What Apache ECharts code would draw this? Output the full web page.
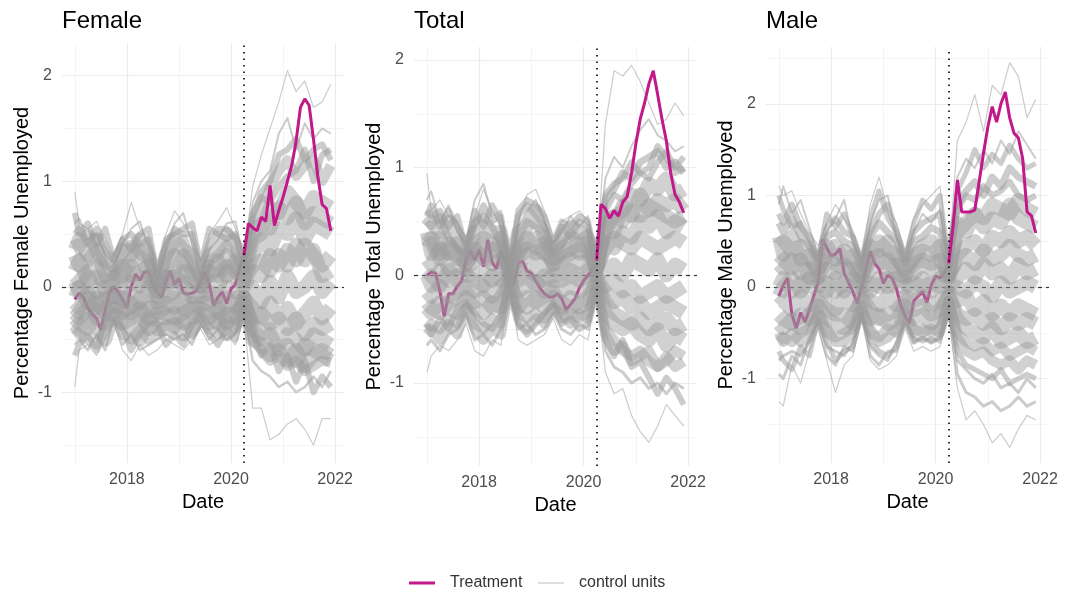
<!DOCTYPE html>
<html>
<head>
<meta charset="utf-8">
<script src="https://cdn.jsdelivr.net/npm/echarts@6/dist/echarts.min.js"></script>
<style>
  html, body { margin: 0; background: #fff; }
  #chart { width: 1067px; height: 594px; }
</style>
</head>
<body>
<div id="chart"></div>
<script>
  // treatment series, one value per month, 2017-01 .. 2021-12
  var femaleTreatment = [
    -0.12, -0.06, -0.10, -0.20, -0.26, -0.30, -0.41, -0.22, -0.05, 0.00, -0.05, -0.12,
    -0.20, 0.00, 0.12, 0.06, 0.14, 0.14, 0.04, -0.05, -0.10, 0.05, 0.15, 0.02,
    0.08, -0.06, -0.07, -0.06, -0.04, 0.05, 0.14, 0.02, -0.18, -0.10, -0.05, -0.16,
    -0.02, 0.02, 0.18, 0.30, 0.60, 0.56, 0.53, 0.66, 0.62, 0.96, 0.58, 0.72,
    0.85, 1.00, 1.15, 1.38, 1.70, 1.78, 1.72, 1.40, 1.05, 0.78, 0.74, 0.53
  ]
  var totalTreatment = [
    0.00, 0.03, 0.02, -0.15, -0.38, -0.17, -0.17, -0.10, -0.05, 0.15, 0.23, 0.14,
    0.24, 0.08, 0.33, 0.12, 0.06, 0.23, 0.12, -0.02, -0.08, 0.12, 0.13, 0.04,
    0.02, -0.05, -0.12, -0.17, -0.20, -0.20, -0.17, -0.22, -0.32, -0.27, -0.22, -0.12,
    -0.05, 0.00, 0.05, 0.14, 0.66, 0.62, 0.53, 0.60, 0.55, 0.68, 0.73, 0.95,
    1.22, 1.45, 1.60, 1.78, 1.90, 1.68, 1.45, 1.25, 0.95, 0.75, 0.68, 0.58
  ]
  var maleTreatment = [
    -0.10, 0.02, 0.10, -0.30, -0.45, -0.28, -0.38, -0.25, -0.10, 0.05, 0.52, 0.43,
    0.34, 0.36, 0.42, 0.15, 0.05, -0.05, -0.18, 0.00, 0.20, 0.39, 0.26, 0.20,
    0.04, 0.13, 0.10, -0.02, -0.20, -0.32, -0.39, -0.15, -0.10, -0.05, -0.17, 0.02,
    0.12, 0.10, 0.15, 0.26, 0.66, 1.17, 0.82, 0.82, 0.82, 0.84, 1.15, 1.46,
    1.75, 1.97, 1.80, 2.00, 2.13, 1.85, 1.68, 1.63, 1.40, 0.82, 0.78, 0.59
  ]

  // control units are read at these month indices (0 = 2017-01)
  var controlMonths = [0, 1, 3, 5, 7, 9, 11, 13, 15, 17, 19, 21, 23, 25, 27, 29,
    31, 33, 35, 37, 39, 41, 43, 45, 47, 49, 51, 53, 55, 57, 59]

  var femaleControls = [
    [0.9, 0.6, 0.55, 0.62, 0.45, 0.3, 0.5, 0.8, 0.55, 0.45, 0.15, 0.5, 0.72, 0.6, 0.45, 0.25, 0.5, 0.62, 0.75, 0.55, 0.3, 0.95, 1.25, 1.5, 1.75, 2.05, 1.85, 1.95, 1.7, 1.75, 1.92],
    [0.6, 0.65, 0.45, 0.5, 0.3, 0.2, 0.4, 0.55, 0.62, 0.35, 0.05, 0.35, 0.6, 0.7, 0.4, 0.1, 0.35, 0.45, 0.6, 0.62, 0.25, 0.8, 1.0, 1.1, 1.45, 1.6, 1.3, 1.55, 1.4, 1.5, 1.45],
    [0.45, 0.35, 0.5, 0.3, 0.2, 0.1, 0.3, 0.4, 0.3, 0.25, 0.0, 0.25, 0.4, 0.45, 0.2, 0.05, 0.25, 0.3, 0.4, 0.3, 0.15, 0.6, 0.7, 0.95, 1.1, 1.2, 1.05, 1.15, 1.2, 1.0, 1.15],
    [0.3, 0.2, 0.25, 0.35, 0.1, 0.15, 0.1, 0.25, 0.35, 0.1, -0.05, 0.15, 0.3, 0.2, 0.1, 0.0, 0.2, 0.15, 0.3, 0.2, 0.1, 0.45, 0.5, 0.75, 0.7, 0.9, 0.8, 0.7, 0.85, 0.8, 0.75],
    [0.15, 0.25, 0.05, 0.1, 0.05, 0.05, 0.2, 0.1, 0.15, 0.2, 0.0, 0.05, 0.15, 0.3, 0.15, 0.05, 0.1, 0.25, 0.1, 0.25, 0.05, 0.3, 0.45, 0.35, 0.55, 0.5, 0.65, 0.45, 0.6, 0.55, 0.5],
    [0.05, -0.05, 0.1, -0.05, 0.0, 0.0, -0.05, 0.05, 0.0, 0.05, -0.1, 0.0, 0.1, 0.0, -0.05, -0.05, 0.05, 0.0, 0.15, 0.1, 0.0, 0.15, 0.1, 0.3, 0.2, 0.35, 0.25, 0.4, 0.3, 0.2, 0.3],
    [-0.1, 0.0, -0.15, -0.1, -0.15, -0.05, -0.15, -0.05, -0.15, 0.0, -0.15, -0.1, -0.05, 0.05, -0.1, -0.1, -0.05, -0.1, 0.0, -0.05, -0.05, 0.0, -0.15, 0.05, -0.1, 0.1, -0.05, 0.0, 0.1, -0.05, 0.05],
    [-0.2, -0.25, -0.1, -0.3, -0.2, -0.1, -0.25, -0.15, -0.3, -0.2, -0.2, -0.15, -0.2, -0.1, -0.25, -0.15, -0.15, -0.25, -0.1, -0.2, -0.1, -0.2, -0.3, -0.15, -0.3, -0.2, -0.35, -0.25, -0.15, -0.3, -0.2],
    [-0.3, -0.35, -0.4, -0.25, -0.35, -0.2, -0.35, -0.3, -0.25, -0.4, -0.3, -0.3, -0.25, -0.35, -0.3, -0.25, -0.3, -0.2, -0.35, -0.25, -0.15, -0.35, -0.45, -0.4, -0.55, -0.45, -0.5, -0.6, -0.45, -0.5, -0.55],
    [-0.4, -0.45, -0.5, -0.55, -0.4, -0.25, -0.45, -0.5, -0.4, -0.5, -0.45, -0.35, -0.4, -0.3, -0.45, -0.3, -0.4, -0.45, -0.3, -0.4, -0.2, -0.5, -0.6, -0.7, -0.65, -0.75, -0.7, -0.8, -0.75, -0.7, -0.72],
    [-0.55, -0.5, -0.6, -0.45, -0.6, -0.3, -0.55, -0.45, -0.6, -0.55, -0.5, -0.45, -0.5, -0.45, -0.55, -0.35, -0.5, -0.4, -0.5, -0.45, -0.25, -0.7, -0.8, -0.85, -0.95, -0.9, -1.0, -0.95, -0.85, -0.95, -0.8],
    [-0.95, -0.6, -0.55, -0.65, -0.5, -0.35, -0.6, -0.7, -0.55, -0.65, -0.6, -0.5, -0.55, -0.6, -0.5, -0.4, -0.55, -0.5, -0.45, -0.55, -0.3, -1.15, -1.15, -1.45, -1.4, -1.3, -1.25, -1.35, -1.5, -1.25, -1.25],
    [0.7, 0.5, 0.6, 0.4, 0.55, 0.25, 0.45, 0.35, 0.5, 0.55, 0.1, 0.45, 0.5, 0.55, 0.6, 0.2, 0.55, 0.5, 0.45, 0.5, 0.2, 0.7, 0.85, 0.8, 0.95, 1.05, 1.1, 1.3, 1.0, 1.25, 1.3],
    [-0.65, -0.55, -0.45, -0.6, -0.3, -0.3, -0.4, -0.6, -0.45, -0.35, -0.35, -0.55, -0.45, -0.55, -0.35, -0.3, -0.45, -0.55, -0.4, -0.5, -0.2, -0.45, -0.65, -0.55, -0.8, -0.65, -0.9, -0.7, -1.0, -0.85, -0.95],
    [0.35, 0.45, 0.3, 0.45, 0.25, 0.2, 0.35, 0.3, 0.45, 0.3, 0.05, 0.3, 0.45, 0.35, 0.3, 0.1, 0.3, 0.35, 0.5, 0.4, 0.2, 0.5, 0.6, 0.55, 0.75, 0.65, 0.8, 0.6, 0.7, 0.65, 0.6],
    [0.1, 0.05, 0.15, 0.2, -0.05, 0.1, 0.05, 0.2, 0.05, 0.1, -0.05, 0.1, 0.05, 0.15, 0.05, 0.0, 0.15, 0.1, 0.2, 0.15, 0.05, 0.2, 0.25, 0.15, 0.3, 0.2, 0.4, 0.25, 0.35, 0.1, 0.15],
    [-0.15, -0.2, -0.05, -0.2, -0.1, -0.1, -0.1, -0.2, -0.1, -0.15, -0.25, -0.2, -0.1, -0.2, -0.15, -0.2, -0.1, -0.15, -0.2, -0.1, -0.1, -0.3, -0.25, -0.35, -0.3, -0.4, -0.3, -0.45, -0.35, -0.4, -0.35],
    [-0.45, -0.4, -0.3, -0.4, -0.5, -0.25, -0.3, -0.4, -0.5, -0.3, -0.4, -0.4, -0.35, -0.45, -0.4, -0.3, -0.35, -0.3, -0.45, -0.35, -0.15, -0.5, -0.55, -0.65, -0.6, -0.7, -0.6, -0.75, -0.65, -0.6, -0.65],
    [0.5, 0.55, 0.4, 0.55, 0.35, 0.25, 0.45, 0.5, 0.4, 0.45, 0.1, 0.4, 0.55, 0.5, 0.5, 0.15, 0.4, 0.55, 0.55, 0.45, 0.25, 0.65, 0.9, 1.0, 1.25, 1.3, 1.4, 1.2, 1.3, 1.35, 1.2],
    [-0.25, -0.3, -0.2, -0.15, -0.25, -0.15, -0.2, -0.25, -0.2, -0.3, -0.25, -0.25, -0.3, -0.25, -0.2, -0.2, -0.25, -0.35, -0.25, -0.3, -0.1, -0.4, -0.5, -0.45, -0.6, -0.55, -0.7, -0.55, -0.6, -0.65, -0.7]
  ]
  var totalControls = [
    [0.95, 0.6, 0.7, 0.55, 0.5, 0.35, 0.55, 0.8, 0.6, 0.45, 0.1, 0.5, 0.75, 0.8, 0.6, 0.35, 0.5, 0.55, 0.6, 0.5, 0.15, 1.4, 1.9, 1.85, 1.95, 1.8, 1.6, 1.4, 1.45, 1.6, 1.48],
    [0.7, 0.78, 0.5, 0.65, 0.4, 0.3, 0.7, 0.85, 0.55, 0.6, 0.08, 0.45, 0.6, 0.7, 0.5, 0.3, 0.4, 0.55, 0.45, 0.55, 0.12, 0.9, 1.1, 1.0, 1.2, 1.35, 1.45, 1.3, 1.25, 1.15, 1.2],
    [0.5, 0.45, 0.55, 0.35, 0.25, 0.2, 0.5, 0.55, 0.45, 0.3, 0.05, 0.35, 0.5, 0.45, 0.4, 0.2, 0.3, 0.4, 0.35, 0.4, 0.1, 0.7, 0.8, 0.95, 0.9, 1.05, 1.1, 1.15, 1.0, 1.05, 0.95],
    [0.3, 0.35, 0.2, 0.3, 0.15, 0.15, 0.3, 0.35, 0.3, 0.25, 0.03, 0.25, 0.3, 0.35, 0.2, 0.15, 0.2, 0.25, 0.3, 0.25, 0.08, 0.45, 0.55, 0.6, 0.75, 0.7, 0.85, 0.8, 0.9, 0.75, 0.8],
    [0.15, 0.1, 0.25, 0.05, 0.1, 0.05, 0.15, 0.2, 0.1, 0.15, 0.0, 0.1, 0.2, 0.15, 0.1, 0.05, 0.1, 0.15, 0.1, 0.15, 0.05, 0.3, 0.25, 0.4, 0.35, 0.5, 0.45, 0.55, 0.4, 0.5, 0.45],
    [0.0, -0.1, 0.05, -0.05, 0.0, 0.0, 0.0, 0.05, -0.05, 0.05, -0.02, 0.0, 0.05, 0.0, -0.05, 0.0, 0.0, 0.05, 0.0, 0.05, 0.0, 0.05, 0.1, 0.0, 0.15, 0.1, 0.05, 0.15, 0.0, 0.1, 0.05],
    [-0.15, -0.2, -0.1, -0.2, -0.15, -0.1, -0.15, -0.1, -0.2, -0.1, -0.04, -0.15, -0.1, -0.05, -0.15, -0.1, -0.15, -0.1, -0.15, -0.1, -0.03, -0.15, -0.25, -0.2, -0.3, -0.25, -0.35, -0.3, -0.25, -0.3, -0.35],
    [-0.3, -0.35, -0.25, -0.3, -0.35, -0.2, -0.3, -0.35, -0.25, -0.3, -0.06, -0.25, -0.3, -0.2, -0.3, -0.2, -0.25, -0.3, -0.25, -0.2, -0.06, -0.35, -0.45, -0.5, -0.45, -0.55, -0.6, -0.5, -0.65, -0.55, -0.6],
    [-0.5, -0.45, -0.5, -0.4, -0.45, -0.3, -0.45, -0.5, -0.4, -0.45, -0.08, -0.35, -0.4, -0.35, -0.45, -0.3, -0.4, -0.35, -0.4, -0.35, -0.08, -0.5, -0.6, -0.7, -0.75, -0.7, -0.8, -0.85, -0.75, -0.85, -0.8],
    [-0.65, -0.6, -0.7, -0.55, -0.5, -0.35, -0.6, -0.55, -0.65, -0.5, -0.1, -0.5, -0.45, -0.55, -0.5, -0.35, -0.5, -0.55, -0.45, -0.5, -0.1, -0.7, -0.85, -0.9, -1.0, -0.95, -1.05, -1.0, -1.1, -1.0, -1.05],
    [-0.9, -0.75, -0.65, -0.7, -0.6, -0.45, -0.7, -0.75, -0.6, -0.65, -0.12, -0.6, -0.65, -0.6, -0.55, -0.4, -0.6, -0.65, -0.55, -0.6, -0.15, -0.9, -1.1, -1.05, -1.3, -1.45, -1.55, -1.4, -1.2, -1.3, -1.4],
    [0.6, 0.55, 0.6, 0.45, 0.55, 0.25, 0.6, 0.45, 0.65, 0.5, 0.06, 0.55, 0.65, 0.55, 0.45, 0.25, 0.45, 0.35, 0.5, 0.45, 0.1, 0.6, 0.75, 0.7, 0.85, 0.95, 0.9, 1.05, 1.15, 1.0, 1.1],
    [-0.45, -0.55, -0.4, -0.5, -0.3, -0.25, -0.35, -0.45, -0.5, -0.35, -0.05, -0.45, -0.55, -0.45, -0.35, -0.25, -0.45, -0.4, -0.5, -0.45, -0.1, -0.6, -0.75, -0.6, -0.85, -0.8, -0.95, -1.1, -0.95, -1.05, -1.2],
    [0.4, 0.2, 0.35, 0.2, 0.3, 0.1, 0.2, 0.3, 0.15, 0.35, 0.02, 0.2, 0.35, 0.25, 0.3, 0.1, 0.25, 0.3, 0.2, 0.3, 0.05, 0.5, 0.4, 0.65, 0.55, 0.75, 0.6, 0.7, 0.65, 0.7, 0.6],
    [0.25, 0.3, 0.15, 0.25, 0.2, 0.1, 0.25, 0.15, 0.25, 0.2, 0.04, 0.15, 0.25, 0.2, 0.25, 0.1, 0.15, 0.2, 0.25, 0.2, 0.06, 0.25, 0.35, 0.3, 0.25, 0.35, 0.3, 0.25, 0.3, 0.35, 0.3],
    [-0.05, 0.0, -0.1, 0.05, -0.05, 0.0, -0.05, -0.1, 0.0, -0.05, -0.01, -0.05, 0.0, -0.1, 0.0, -0.05, -0.05, 0.0, -0.05, 0.0, -0.01, -0.1, -0.05, -0.15, -0.1, -0.2, -0.15, -0.1, -0.2, -0.15, -0.1],
    [-0.25, -0.3, -0.35, -0.25, -0.2, -0.15, -0.25, -0.2, -0.3, -0.2, -0.05, -0.3, -0.2, -0.25, -0.2, -0.15, -0.3, -0.2, -0.3, -0.25, -0.05, -0.25, -0.35, -0.4, -0.45, -0.4, -0.5, -0.45, -0.4, -0.5, -0.45],
    [-0.55, -0.5, -0.6, -0.45, -0.55, -0.3, -0.5, -0.6, -0.5, -0.55, -0.1, -0.4, -0.5, -0.4, -0.4, -0.3, -0.35, -0.45, -0.35, -0.4, -0.08, -0.55, -0.7, -0.65, -0.8, -0.75, -0.7, -0.85, -0.8, -0.7, -0.75],
    [0.45, 0.5, 0.4, 0.5, 0.35, 0.2, 0.4, 0.45, 0.4, 0.4, 0.04, 0.4, 0.45, 0.6, 0.35, 0.2, 0.35, 0.45, 0.4, 0.35, 0.08, 0.4, 0.55, 0.5, 0.6, 0.55, 0.65, 0.6, 0.55, 0.5, 0.55],
    [0.55, 0.65, 0.45, 0.6, 0.45, 0.3, 0.45, 0.65, 0.5, 0.55, 0.07, 0.6, 0.7, 0.65, 0.55, 0.3, 0.5, 0.45, 0.55, 0.5, 0.12, 0.75, 0.85, 0.9, 1.05, 0.95, 1.0, 1.2, 1.1, 0.95, 1.0]
  ]
  var maleControls = [
    [1.1, 1.0, 1.05, 0.8, 0.6, 0.45, 0.7, 0.9, 0.75, 0.6, 0.3, 0.9, 1.2, 0.85, 0.7, 0.4, 0.75, 0.9, 1.0, 1.1, 0.3, 1.6, 1.8, 2.1, 1.7, 2.2, 2.1, 2.45, 2.3, 1.85, 2.05],
    [0.9, 1.1, 0.8, 0.95, 0.65, 0.35, 0.6, 0.75, 0.95, 0.5, 0.25, 0.7, 0.95, 1.0, 0.55, 0.35, 0.6, 0.8, 0.7, 0.85, 0.25, 1.2, 1.4, 1.3, 1.5, 1.35, 1.6, 1.45, 1.7, 1.55, 1.4],
    [0.7, 0.6, 0.75, 0.55, 0.45, 0.25, 0.55, 0.6, 0.5, 0.45, 0.2, 0.55, 0.7, 0.6, 0.5, 0.25, 0.5, 0.55, 0.65, 0.6, 0.2, 0.9, 1.05, 1.15, 1.0, 1.2, 1.1, 1.3, 1.2, 1.15, 1.1],
    [0.45, 0.5, 0.4, 0.45, 0.3, 0.2, 0.35, 0.45, 0.3, 0.35, 0.15, 0.35, 0.5, 0.4, 0.35, 0.15, 0.35, 0.4, 0.35, 0.45, 0.15, 0.6, 0.7, 0.8, 0.75, 0.9, 0.85, 0.8, 0.95, 0.85, 0.8],
    [0.25, 0.2, 0.3, 0.15, 0.2, 0.1, 0.2, 0.15, 0.25, 0.1, 0.05, 0.2, 0.25, 0.3, 0.15, 0.1, 0.15, 0.25, 0.2, 0.15, 0.1, 0.35, 0.45, 0.5, 0.4, 0.55, 0.5, 0.6, 0.5, 0.55, 0.45],
    [0.0, 0.1, -0.05, 0.05, 0.0, 0.0, 0.05, -0.05, 0.05, 0.0, 0.0, 0.05, 0.0, 0.1, 0.0, 0.0, 0.05, 0.0, 0.05, 0.0, 0.0, 0.1, 0.2, 0.1, 0.25, 0.15, 0.2, 0.1, 0.25, 0.15, 0.2],
    [-0.2, -0.15, -0.25, -0.1, -0.2, -0.1, -0.15, -0.25, -0.1, -0.2, -0.05, -0.15, -0.2, -0.1, -0.2, -0.1, -0.15, -0.1, -0.2, -0.15, -0.05, -0.15, -0.1, -0.25, -0.15, -0.3, -0.2, -0.3, -0.2, -0.25, -0.3],
    [-0.4, -0.45, -0.35, -0.45, -0.3, -0.2, -0.35, -0.4, -0.45, -0.3, -0.15, -0.35, -0.3, -0.4, -0.35, -0.2, -0.35, -0.3, -0.4, -0.3, -0.1, -0.35, -0.45, -0.5, -0.55, -0.45, -0.6, -0.55, -0.5, -0.6, -0.55],
    [-0.6, -0.55, -0.6, -0.5, -0.45, -0.3, -0.5, -0.55, -0.5, -0.45, -0.2, -0.5, -0.55, -0.45, -0.5, -0.3, -0.45, -0.5, -0.45, -0.5, -0.15, -0.55, -0.7, -0.75, -0.7, -0.8, -0.85, -0.8, -0.9, -0.8, -0.85],
    [-0.8, -0.75, -0.7, -0.75, -0.6, -0.35, -0.65, -0.7, -0.75, -0.6, -0.3, -0.65, -0.75, -0.8, -0.6, -0.4, -0.6, -0.55, -0.6, -0.55, -0.2, -0.8, -0.9, -1.0, -1.05, -0.95, -1.1, -1.05, -1.15, -1.0, -1.1],
    [-1.25, -1.3, -0.85, -1.05, -0.7, -0.45, -0.8, -1.15, -0.85, -0.75, -0.35, -0.8, -0.9, -0.85, -0.75, -0.45, -0.7, -0.65, -0.7, -0.65, -0.3, -1.1, -1.45, -1.35, -1.5, -1.7, -1.6, -1.75, -1.55, -1.4, -1.45],
    [1.0, 0.85, 0.65, 0.7, 0.5, 0.3, 0.8, 0.65, 0.8, 0.55, 0.3, 0.75, 1.05, 0.75, 0.6, 0.3, 0.7, 0.95, 0.85, 1.0, 0.28, 1.05, 1.25, 1.5, 1.3, 1.45, 1.35, 1.55, 1.4, 1.3, 1.35],
    [-0.95, -1.0, -0.75, -0.85, -0.55, -0.4, -0.75, -0.85, -0.65, -0.7, -0.25, -0.75, -0.85, -0.7, -0.7, -0.35, -0.55, -0.6, -0.55, -0.6, -0.25, -0.95, -1.15, -1.2, -1.3, -1.25, -1.35, -1.3, -1.2, -1.3, -1.25],
    [0.55, 0.35, 0.55, 0.3, 0.35, 0.15, 0.45, 0.3, 0.4, 0.25, 0.1, 0.45, 0.4, 0.5, 0.3, 0.2, 0.3, 0.45, 0.5, 0.3, 0.12, 0.7, 0.6, 0.8, 0.65, 0.75, 0.7, 0.9, 0.75, 0.7, 0.65],
    [0.35, 0.3, 0.2, 0.3, 0.1, 0.1, 0.3, 0.25, 0.2, 0.2, 0.1, 0.3, 0.35, 0.2, 0.25, 0.12, 0.25, 0.3, 0.25, 0.3, 0.12, 0.3, 0.35, 0.25, 0.4, 0.3, 0.35, 0.45, 0.35, 0.3, 0.35],
    [-0.1, 0.0, 0.1, -0.05, 0.1, 0.05, -0.05, 0.1, -0.05, 0.1, 0.02, -0.05, 0.1, 0.0, 0.1, 0.05, -0.05, 0.1, -0.05, 0.1, 0.05, 0.0, -0.05, 0.05, 0.0, -0.1, 0.05, -0.05, 0.0, 0.05, 0.0],
    [-0.3, -0.35, -0.4, -0.3, -0.35, -0.15, -0.25, -0.3, -0.3, -0.4, -0.1, -0.25, -0.35, -0.3, -0.25, -0.15, -0.25, -0.2, -0.3, -0.25, -0.08, -0.3, -0.35, -0.3, -0.4, -0.35, -0.45, -0.35, -0.4, -0.35, -0.4],
    [-0.5, -0.6, -0.5, -0.6, -0.55, -0.25, -0.45, -0.6, -0.6, -0.5, -0.25, -0.45, -0.6, -0.55, -0.45, -0.25, -0.5, -0.45, -0.5, -0.45, -0.15, -0.5, -0.6, -0.65, -0.6, -0.7, -0.65, -0.75, -0.7, -0.65, -0.7],
    [0.8, 0.7, 0.9, 0.65, 0.55, 0.3, 0.65, 0.75, 0.6, 0.55, 0.25, 0.6, 0.8, 0.9, 0.6, 0.3, 0.6, 0.7, 0.75, 0.8, 0.22, 0.85, 1.0, 0.95, 1.1, 1.0, 1.05, 1.15, 1.0, 0.95, 1.0],
    [-0.7, -0.8, -0.9, -0.65, -0.75, -0.35, -0.6, -0.8, -0.7, -0.65, -0.3, -0.6, -0.7, -0.75, -0.65, -0.35, -0.6, -0.55, -0.6, -0.55, -0.2, -0.7, -0.85, -0.9, -0.95, -1.0, -0.9, -1.05, -1.0, -0.95, -1.0]
  ]

  var treatmentStart = 2020.25
  var xMajor = [2018, 2020, 2022]
  var xMinor = [2017, 2019, 2021]
  var yMajor = [-1, 0, 1, 2]

  // stroke widths for the control lines (thin at the edges of the band, heavy in its core)
  var femaleWidths = [1.2, 2, 10, 14, 14, 14, 14, 14, 14, 10, 2.5, 1.2, 6, 6, 14, 14, 14, 14, 6, 14]
  var totalWidths = [1.2, 2, 7, 14, 14, 14, 14, 14, 10, 3, 1.2, 6, 6, 14, 14, 14, 14, 10, 14, 6]
  var maleWidths = [1.2, 2, 7, 14, 14, 14, 14, 14, 10, 3, 1.2, 5, 3, 14, 14, 14, 14, 10, 6, 5]

  var panels = [
    {title: 'Female', yName: 'Percentage Female Unemployed', left: 62, top: 43, width: 282, height: 420,
      yMin: -1.67, yMax: 2.31, yMinor: [-1.5, -0.5, 0.5, 1.5], treat: femaleTreatment, controls: femaleControls, widths: femaleWidths},
    {title: 'Total', yName: 'Percentage Total Unemployed', left: 414, top: 47, width: 283, height: 419,
      yMin: -1.77, yMax: 2.12, yMinor: [-1.5, -0.5, 0.5, 1.5], treat: totalTreatment, controls: totalControls, widths: totalWidths},
    {title: 'Male', yName: 'Percentage Male Unemployed', left: 766, top: 47, width: 283, height: 416,
      yMin: -1.92, yMax: 2.62, yMinor: [-1.5, -0.5, 0.5, 1.5, 2.5], treat: maleTreatment, controls: maleControls, widths: maleWidths}
  ]

  function monthToYear (m) {
    return 2017 + m / 12
  }

  var magenta = '#C2188A'
  var font = 'Liberation Sans, Arial, sans-serif'

  var titles = []
  var grids = []
  var xAxes = []
  var yAxes = []
  var series = []

  panels.forEach(function (p, i) {
    titles.push({
      text: p.title, left: p.left, top: 9, padding: 0,
      textStyle: {fontSize: 24, fontWeight: 'normal', color: '#000', fontFamily: font}
    })
    grids.push({left: p.left, top: p.top, width: p.width, height: p.height})

    // major + minor x axes (minor only draws grid lines)
    xAxes.push({
      type: 'value', gridIndex: i, min: 2016.754, max: 2022.17,
      axisLine: {show: false},
      axisTick: {show: false, customValues: xMajor},
      axisLabel: {customValues: xMajor, color: '#4d4d4d', fontSize: 16, margin: 9, fontFamily: font,
        formatter: function (v) { return String(v) }},
      splitLine: {show: true, lineStyle: {color: '#ebebeb', width: 1.2}},
      name: 'Date', nameLocation: 'middle', nameGap: 28,
      nameTextStyle: {fontSize: 20, color: '#000', fontFamily: font}
    })
    xAxes.push({
      type: 'value', gridIndex: i, min: 2016.754, max: 2022.17, position: 'bottom',
      axisLine: {show: false},
      axisTick: {show: false, customValues: xMinor},
      axisLabel: {show: false},
      splitLine: {show: true, lineStyle: {color: '#f4f4f4', width: 1}}
    })
    yAxes.push({
      type: 'value', gridIndex: i, min: p.yMin, max: p.yMax,
      axisLine: {show: false},
      axisTick: {show: false, customValues: yMajor},
      axisLabel: {customValues: yMajor, color: '#4d4d4d', fontSize: 16, margin: 10, fontFamily: font,
        formatter: function (v) { return String(v) }},
      splitLine: {show: true, lineStyle: {color: '#ebebeb', width: 1.2}},
      name: p.yName, nameLocation: 'middle', nameGap: 30, nameRotate: 90,
      nameTextStyle: {fontSize: 20, color: '#000', fontFamily: font}
    })
    yAxes.push({
      type: 'value', gridIndex: i, min: p.yMin, max: p.yMax, position: 'left',
      axisLine: {show: false},
      axisTick: {show: false, customValues: p.yMinor},
      axisLabel: {show: false},
      splitLine: {show: true, lineStyle: {color: '#f4f4f4', width: 1}}
    })

    // pre-treatment part sits under the control lines
    var pre = []
    var post = []
    p.treat.forEach(function (v, m) {
      if (m <= 39) pre.push([monthToYear(m), v])
      if (m >= 39) post.push([monthToYear(m), v])
    })

    p.controls.forEach(function (line, k) {
      var w = p.widths[k]
      var s = {
        name: 'control units', type: 'line', xAxisIndex: 2 * i, yAxisIndex: 2 * i,
        data: line.map(function (v, j) { return [monthToYear(controlMonths[j]), v] }),
        symbol: 'none', silent: true, z: 3,
        lineStyle: {color: '#999999', width: w, opacity: w > 8 ? 0.45 : 0.5, join: 'round', cap: 'butt'},
        emphasis: {disabled: true}
      }
      if (k === 0) {
        s.markLine = {
          silent: true, symbol: 'none', z: 1, label: {show: false},
          lineStyle: {type: [4, 4], color: '#333', width: 1.2, opacity: 1},
          data: [{yAxis: 0}]
        }
      }
      series.push(s)
    })

    series.push({
      name: 'Treatment', type: 'line', xAxisIndex: 2 * i, yAxisIndex: 2 * i,
      data: pre, symbol: 'none', silent: true, z: 2,
      lineStyle: {color: magenta, width: 3}, itemStyle: {color: magenta},
      emphasis: {disabled: true}
    })
    series.push({
      name: 'Treatment', type: 'line', xAxisIndex: 2 * i, yAxisIndex: 2 * i,
      data: post, symbol: 'none', silent: true, z: 4,
      lineStyle: {color: magenta, width: 3}, itemStyle: {color: magenta},
      emphasis: {disabled: true},
      markLine: {
        silent: true, symbol: 'none', z: 6, label: {show: false},
        lineStyle: {type: [1.5, 5], color: '#000', width: 1.6},
        data: [{xAxis: treatmentStart}]
      }
    })
  })

  var chart = echarts.init(document.getElementById('chart'))
  chart.setOption({
    animation: false,
    backgroundColor: '#fff',
    textStyle: {fontFamily: font},
    title: titles,
    grid: grids,
    xAxis: xAxes,
    yAxis: yAxes,
    legend: [
      {
        left: 409, top: 575, padding: 0, itemWidth: 26, itemHeight: 3, icon: 'rect',
        data: [{name: 'Treatment', itemStyle: {color: magenta}}],
        textStyle: {fontSize: 16, color: '#333', fontFamily: font, padding: [0, 0, 0, 10]}
      },
      {
        left: 538, top: 575, padding: 0, itemWidth: 26, itemHeight: 1.5, icon: 'rect',
        data: [{name: 'control units', itemStyle: {color: '#d3d3d3'}}],
        textStyle: {fontSize: 16, color: '#333', fontFamily: font, padding: [0, 0, 0, 10]}
      }
    ],
    series: series
  })
</script>
</body>
</html>
